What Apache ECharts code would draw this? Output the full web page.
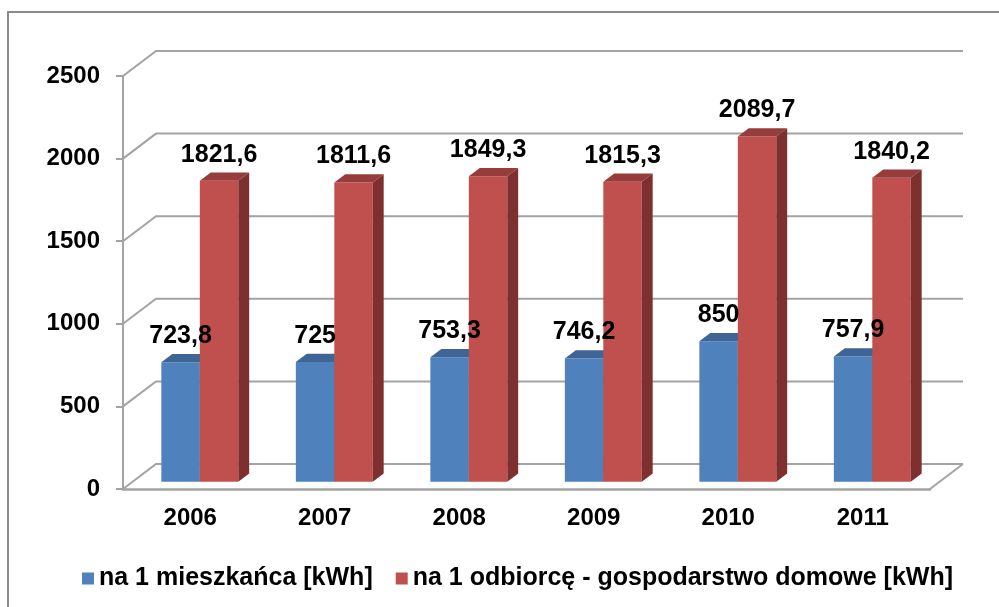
<!DOCTYPE html>
<html>
<head>
<meta charset="utf-8">
<style>
html,body{margin:0;padding:0;background:#fff;}
#chart{width:999px;height:607px;}
</style>
<script src="https://cdn.jsdelivr.net/npm/echarts@6/dist/echarts.min.js"></script>
</head>
<body>
<div id="chart"></div>
<script>
// ---- data ----
var categories = ['2006', '2007', '2008', '2009', '2010', '2011'];
var perResident = [723.8, 725, 753.3, 746.2, 850, 757.9];
var perHousehold = [1821.6, 1811.6, 1849.3, 1815.3, 2089.7, 1840.2];
var seriesNames = ['na 1 mieszkańca [kWh]', 'na 1 odbiorcę - gospodarstwo domowe [kWh]'];
var yTicks = [0, 500, 1000, 1500, 2000, 2500];

// ---- style ----
var FONT = '"Liberation Sans", Arial, sans-serif';
var GRID_COLOR = '#a3a3a3';
var WALL_DX = 33, WALL_DY = -25;       // depth of the 3D box
var BAR_F = 0.29, BAR_B = 0.62;        // bar front/back depth fractions
var BAR_W = 0.286;                     // bar width fraction of band

var colors = [
  {front: '#4f81bd', top: '#3e6595', side: '#2f4f77'},
  {front: '#c0504d', top: '#963d3b', side: '#7d302e'}
];

function fmt(v) { return String(v).replace('.', ','); }

function frameRender(params, api) {
  var v = api.value(1);
  var cs = params.coordSys;
  var y = api.coord([0, v])[1];
  var l = cs.x, r = cs.x + cs.width;
  var kids = [{
    type: 'polyline',
    shape: {points: [[l, y], [l + WALL_DX, y + WALL_DY], [r + WALL_DX, y + WALL_DY]]},
    style: {stroke: GRID_COLOR, lineWidth: 2, fill: null}
  }];
  if (v === 0) {
    kids.push({
      type: 'line',
      shape: {x1: r, y1: y, x2: r + WALL_DX, y2: y + WALL_DY},
      style: {stroke: GRID_COLOR, lineWidth: 2}
    });
  }
  return {type: 'group', children: kids};
}

function barGeom(k, api) {
  var i = api.value(0), v = api.value(1);
  var pt = api.coord([i, v]);
  var p0 = api.coord([i, 0]);
  var band = api.size([1, 0])[0];
  var w = band * BAR_W;
  var fx = WALL_DX * BAR_F, fy = WALL_DY * BAR_F;
  var cx = pt[0] + fx;
  var left = k === 0 ? cx - w : cx;
  return {
    v: v, left: left, right: left + w, w: w,
    top: pt[1] + fy, bottom: p0[1] + fy,
    dx: WALL_DX * (BAR_B - BAR_F), dy: WALL_DY * (BAR_B - BAR_F)
  };
}

function makeBarRender(k) {
  var c = colors[k];
  return function (params, api) {
    var g = barGeom(k, api);
    var left = g.left, right = g.right, top = g.top, bottom = g.bottom, dx = g.dx, dy = g.dy;
    return {
      type: 'group',
      children: [
        {type: 'rect', shape: {x: left, y: top, width: g.w, height: bottom - top}, style: {fill: c.front}},
        {type: 'polygon', shape: {points: [[left, top], [right, top], [right + dx, top + dy], [left + dx, top + dy]]}, style: {fill: c.top}},
        {type: 'polygon', shape: {points: [[right, top], [right + dx, top + dy], [right + dx, bottom + dy], [right, bottom]]}, style: {fill: c.side}}
      ]
    };
  };
}

function makeLabelRender(k) {
  return function (params, api) {
    var g = barGeom(k, api);
    return {
      type: 'text',
      style: {
        text: fmt(g.v), x: (g.left + g.right) / 2, y: g.top - 26,
        align: 'center', verticalAlign: 'middle',
        font: 'bold 25px ' + FONT, fill: '#000'
      }
    };
  };
}

var chart = echarts.init(document.getElementById('chart'), null, {renderer: 'canvas'});
chart.setOption({
  animation: false,
  backgroundColor: '#fff',
  graphic: [{
    type: 'rect', z: -10, silent: true,
    shape: {x: 8, y: 12, width: 1000, height: 620},
    style: {fill: null, stroke: '#8a8a8a', lineWidth: 2}
  }],
  grid: {left: 123, right: 69, top: 76, bottom: 118, containLabel: false},
  xAxis: {
    type: 'category',
    data: categories,
    boundaryGap: true,
    axisLine: {show: true, lineStyle: {color: GRID_COLOR, width: 2.5}},
    axisTick: {show: false},
    axisLabel: {margin: 17, color: '#000', fontFamily: FONT, fontWeight: 'bold', fontSize: 24},
    splitLine: {show: false}
  },
  yAxis: {
    type: 'value',
    min: 0, max: 2500, interval: 500,
    axisLine: {show: true, lineStyle: {color: GRID_COLOR, width: 2}},
    axisTick: {show: true, length: 7, lineStyle: {color: GRID_COLOR, width: 2}},
    axisLabel: {
      margin: 23, color: '#000', fontFamily: FONT, fontWeight: 'bold', fontSize: 24,
      formatter: function (v) { return String(v); }
    },
    splitLine: {show: false}
  },
  legend: {
    data: seriesNames,
    left: 82, top: 566, padding: 0,
    itemWidth: 12, itemHeight: 12, itemGap: 23,
    icon: 'rect',
    textStyle: {color: '#000', fontFamily: FONT, fontWeight: 'bold', fontSize: 25}
  },
  series: [
    {
      type: 'custom', name: 'frame', z: 1, silent: true,
      renderItem: frameRender,
      data: yTicks.map(function (v) { return [0, v]; }),
      encode: {x: 0, y: 1}
    },
    {
      type: 'custom', name: seriesNames[0], z: 2,
      itemStyle: {color: colors[0].front},
      renderItem: makeBarRender(0),
      data: perResident.map(function (v, i) { return [i, v]; }),
      encode: {x: 0, y: 1}
    },
    {
      type: 'custom', name: seriesNames[1], z: 3,
      itemStyle: {color: colors[1].front},
      renderItem: makeBarRender(1),
      data: perHousehold.map(function (v, i) { return [i, v]; }),
      encode: {x: 0, y: 1}
    },
    {
      type: 'custom', name: 'labels0', z: 10, silent: true,
      renderItem: makeLabelRender(0),
      data: perResident.map(function (v, i) { return [i, v]; }),
      encode: {x: 0, y: 1}
    },
    {
      type: 'custom', name: 'labels1', z: 10, silent: true,
      renderItem: makeLabelRender(1),
      data: perHousehold.map(function (v, i) { return [i, v]; }),
      encode: {x: 0, y: 1}
    }
  ]
});
</script>
</body>
</html>
